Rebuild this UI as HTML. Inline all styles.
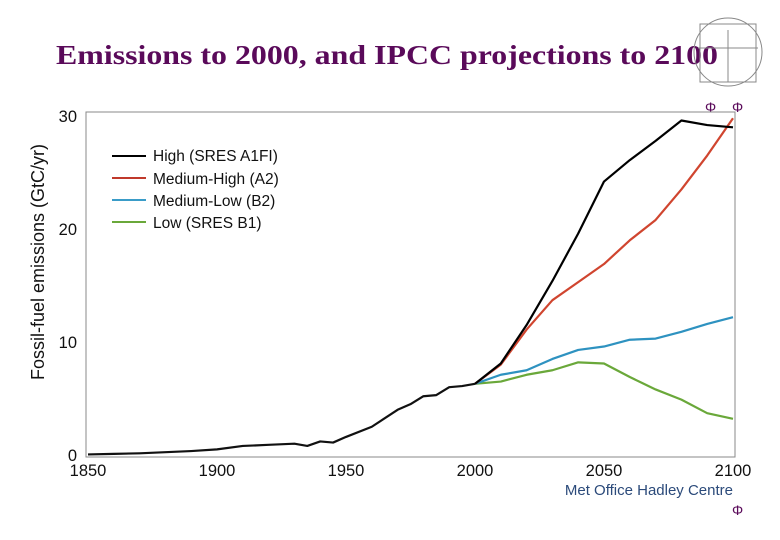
<!DOCTYPE html>
<html><head><meta charset="utf-8"><style>
body{margin:0;background:#fff;width:780px;height:540px;overflow:hidden}
svg{display:block}
</style></head><body>
<svg width="780" height="540" font-family="Liberation Sans, sans-serif">
<text x="56" y="64" font-family="Liberation Serif, serif" font-weight="bold" font-size="27" fill="#5a0a5a" textLength="662" lengthAdjust="spacingAndGlyphs">Emissions to 2000, and IPCC projections to 2100</text>
<g stroke="#888" fill="none" stroke-width="1">
<circle cx="728" cy="52" r="34"/><rect x="700" y="24" width="56" height="58"/>
<line x1="728" y1="30" x2="728" y2="82"/><line x1="698" y1="48" x2="758" y2="48"/>
</g>
<text x="705" y="112" fill="#5a0a5a" font-size="14">Φ</text>
<text x="732" y="112" fill="#5a0a5a" font-size="14">Φ</text>
<rect x="86" y="112" width="649" height="345" fill="none" stroke="#888" stroke-width="1"/>
<g id="axes"></g>
<g id="series"></g>
<text transform="translate(44,262) rotate(-90)" text-anchor="middle" font-size="18" fill="#111">Fossil-fuel emissions  (GtC/yr)</text>
<g font-size="15.5" fill="#111">
<line x1="112" y1="156" x2="146" y2="156" stroke="#000" stroke-width="2"/><text x="153" y="161">High (SRES A1FI)</text>
<line x1="112" y1="178" x2="146" y2="178" stroke="#c0392b" stroke-width="2"/><text x="153" y="184">Medium-High (A2)</text>
<line x1="112" y1="200" x2="146" y2="200" stroke="#3a9cc8" stroke-width="2"/><text x="153" y="206">Medium-Low (B2)</text>
<line x1="112" y1="222" x2="146" y2="222" stroke="#6aa83a" stroke-width="2"/><text x="153" y="228">Low (SRES B1)</text>
</g>
<text x="733" y="495" text-anchor="end" font-size="15" fill="#2b4a7a">Met Office Hadley Centre</text>
<text x="732" y="515" fill="#5a0a5a" font-size="14">Φ</text>
</svg>
<script>
const histYears=[1850,1860,1870,1880,1890,1900,1910,1920,1930,1935,1940,1945,1950,1960,1970,1975,1980,1985,1990,1995,2000];
const histValues=[0.05,0.1,0.15,0.25,0.35,0.5,0.8,0.9,1.0,0.8,1.2,1.1,1.6,2.5,4.0,4.5,5.2,5.3,6.0,6.1,6.3];
const projYears=[2000,2010,2020,2030,2040,2050,2060,2070,2080,2090,2100];
const highValues=[6.3,8.1,11.5,15.4,19.6,24.2,26.1,27.8,29.6,29.2,29.0];
const medHighValues=[6.3,8.0,11.1,13.7,15.3,16.9,19.0,20.8,23.5,26.5,29.8];
const medLowValues=[6.3,7.1,7.5,8.5,9.3,9.6,10.2,10.3,10.9,11.6,12.2];
const lowValues=[6.3,6.5,7.1,7.5,8.2,8.1,6.9,5.8,4.9,3.7,3.2];
const xTicks=[1850,1900,1950,2000,2050,2100];
const yTicks=[0,10,20,30];
const NS='http://www.w3.org/2000/svg';
const xs=y=>88+(y-1850)*(733-88)/250;
const ys=v=>455-v*(455-116)/30;
const axes=document.getElementById('axes');
xTicks.forEach(t=>{const e=document.createElementNS(NS,'text');
e.setAttribute('x',xs(t));e.setAttribute('y',476);e.setAttribute('text-anchor','middle');e.setAttribute('font-size','16.5');e.setAttribute('fill','#111');e.textContent=t;


axes.appendChild(e);});
yTicks.forEach(t=>{const e=document.createElementNS(NS,'text');
e.setAttribute('x',77);e.setAttribute('y',ys(t)+6);e.setAttribute('text-anchor','end');e.setAttribute('font-size','16.5');e.setAttribute('fill','#111');e.textContent=t;


axes.appendChild(e);});
const g=document.getElementById('series');
function line(xsArr,vals,color,name){const p=document.createElementNS(NS,'polyline');
p.setAttribute('points',xsArr.map((x,i)=>xs(x)+','+ys(vals[i])).join(' '));
p.setAttribute('fill','none');p.setAttribute('stroke',color);p.setAttribute('stroke-width','2.2');p.setAttribute('stroke-linejoin','round');


g.appendChild(p);}
line(projYears,lowValues,'#6aa83a','low-b1-line');
line(projYears,medLowValues,'#2e92c0','medium-low-b2-line');
line(projYears,medHighValues,'#d0452f','medium-high-a2-line');
line(projYears,highValues,'#000','high-a1fi-line');
line(histYears,histValues,'#111','historical-line');
</script>
</body></html>
